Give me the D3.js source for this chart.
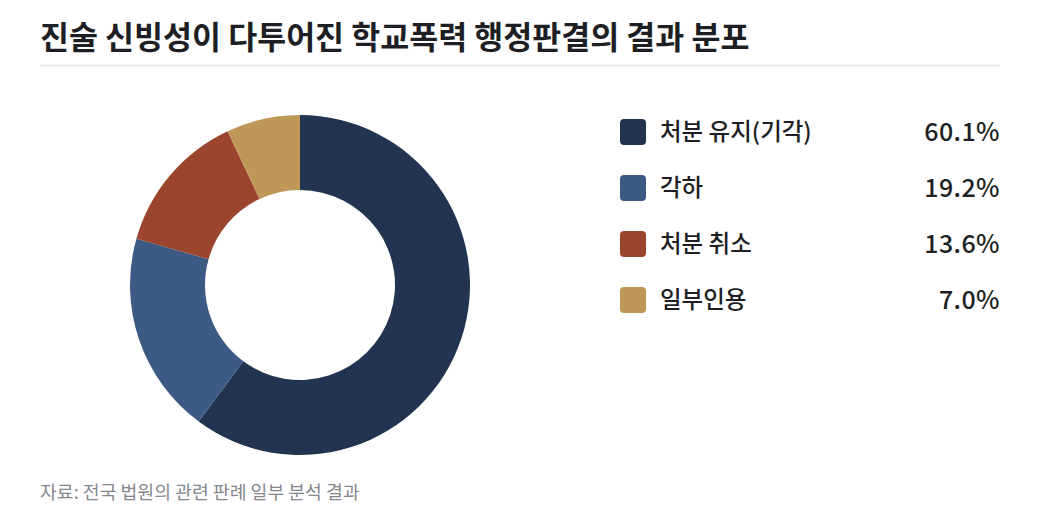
<!DOCTYPE html>
<html>
<head>
<meta charset="utf-8">
<script src="https://cdn.jsdelivr.net/npm/d3@7"></script>
<style>
body { margin: 0; background: #fff; }
svg { font-family: "Noto Sans CJK KR", "Noto Sans", sans-serif; }
</style>
</head>
<body>
<svg id="chart" width="1040" height="525"></svg>
<script>
// data
var categories = ["처분 유지(기각)", "각하", "처분 취소", "일부인용"];
var shares = [60.1, 19.2, 13.6, 7.0];
var colors = ["#22344f", "#3d5a84", "#9b452e", "#bf9756"];

var svg = d3.select("#chart");

//Title and rule
svg.append("text")
    .attr("x", 40)
    .attr("y", 49)
    .attr("font-size", 31.5)
    .attr("font-weight", 700)
    .attr("fill", "#1d1f24")
    .text("진술 신빙성이 다투어진 학교폭력 행정판결의 결과 분포");
svg.append("line")
    .attr("x1", 40).attr("x2", 1000)
    .attr("y1", 65.5).attr("y2", 65.5)
    .attr("stroke", "#e2e2e6")
    .attr("stroke-width", 1.5);

//Donut
var pie = d3.pie().sort(null).value(function(d){return d;});
var arc = d3.arc().innerRadius(95).outerRadius(170);

var donut = svg.append("g")
    .attr("transform", "translate(300,285)");
donut.selectAll("path")
    .data(pie(shares))
    .enter().append("path")
    .attr("d", arc)
    .attr("fill", function(d, i){return colors[i];});

//Legend
var row = d3.scaleBand().domain(categories).range([104, 328]);
var legend = svg.append("g");
var item = legend.selectAll("g")
    .data(categories)
    .enter().append("g")
    .attr("transform", function(d){return "translate(0,"+(row(d)+row.bandwidth()/2)+")";});
item.append("rect")
    .attr("x", 620).attr("y", -13)
    .attr("width", 26).attr("height", 26)
    .attr("rx", 4)
    .attr("fill", function(d, i){return colors[i];});
item.append("text")
    .attr("x", 660)
    .attr("dy", "0.36em")
    .attr("font-size", 23.5)
    .attr("font-weight", 500)
    .attr("fill", "#1d1f24")
    .text(function(d){return d;});
item.append("text")
    .attr("x", 1000)
    .attr("dy", "0.36em")
    .attr("text-anchor", "end")
    .attr("font-size", 25)
    .attr("font-weight", 500)
    .attr("letter-spacing", 0.4)
    .attr("fill", "#1d1f24")
    .text(function(d, i){return shares[i].toFixed(1) + "%";});

//Source
svg.append("text")
    .attr("x", 40)
    .attr("y", 499)
    .attr("font-size", 18.3)
    .attr("fill", "#85878d")
    .text("자료: 전국 법원의 관련 판례 일부 분석 결과");
</script>
</body>
</html>
